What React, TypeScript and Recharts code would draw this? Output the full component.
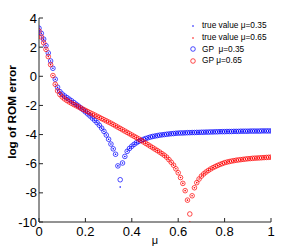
import React from 'react';
import { ScatterChart, Scatter, XAxis, YAxis, Label } from 'recharts';

// 파라미터 격자 (mu)
const MU = [
  0.00, 0.01, 0.02, 0.03, 0.04, 0.05, 0.06, 0.07, 0.08, 0.09,
  0.10, 0.11, 0.12, 0.13, 0.14, 0.15, 0.16, 0.17, 0.18, 0.19,
  0.20, 0.21, 0.22, 0.23, 0.24, 0.25, 0.26, 0.27, 0.28, 0.29,
  0.30, 0.31, 0.32, 0.33, 0.34, 0.35, 0.36, 0.37, 0.38, 0.39,
  0.40, 0.41, 0.42, 0.43, 0.44, 0.45, 0.46, 0.47, 0.48, 0.49,
  0.50, 0.51, 0.52, 0.53, 0.54, 0.55, 0.56, 0.57, 0.58, 0.59,
  0.60, 0.61, 0.62, 0.63, 0.64, 0.65, 0.66, 0.67, 0.68, 0.69,
  0.70, 0.71, 0.72, 0.73, 0.74, 0.75, 0.76, 0.77, 0.78, 0.79,
  0.80, 0.81, 0.82, 0.83, 0.84, 0.85, 0.86, 0.87, 0.88, 0.89,
  0.90, 0.91, 0.92, 0.93, 0.94, 0.95, 0.96, 0.97, 0.98, 0.99,
  1.00,
];

// GP 예측값, mu=0.35
const GP_035 = [
  3.30, 2.95, 2.55, 2.10, 1.60, 1.05, 0.55, -0.20, -0.75, -1.05,
  -1.22, -1.35, -1.46, -1.57, -1.68, -1.80, -1.92, -2.04, -2.17, -2.30,
  -2.44, -2.58, -2.72, -2.87, -3.02, -3.18, -3.36, -3.56, -3.78, -4.03,
  -4.32, -4.65, -4.98, -5.35, -6.15, -7.10, -5.95, -5.50, -5.15, -4.95,
  -4.80, -4.67, -4.56, -4.47, -4.40, -4.33, -4.27, -4.22, -4.17, -4.13,
  -4.10, -4.07, -4.04, -4.02, -4.00, -3.98, -3.96, -3.94, -3.93, -3.91,
  -3.90, -3.89, -3.89, -3.88, -3.87, -3.87, -3.86, -3.86, -3.85, -3.85,
  -3.84, -3.84, -3.83, -3.83, -3.82, -3.82, -3.81, -3.81, -3.80, -3.80,
  -3.80, -3.79, -3.79, -3.79, -3.78, -3.78, -3.78, -3.77, -3.77, -3.77,
  -3.77, -3.76, -3.76, -3.76, -3.76, -3.76, -3.75, -3.75, -3.75, -3.75,
  -3.75,
];

// GP 예측값, mu=0.65
const GP_065 = [
  3.10, 2.70, 2.30, 1.85, 1.35, 0.80, 0.05, -0.55, -1.00, -1.25,
  -1.42, -1.55, -1.66, -1.76, -1.85, -1.94, -2.02, -2.10, -2.18, -2.26,
  -2.34, -2.42, -2.50, -2.58, -2.66, -2.74, -2.82, -2.90, -2.98, -3.06,
  -3.14, -3.22, -3.31, -3.40, -3.49, -3.58, -3.67, -3.76, -3.85, -3.94,
  -4.03, -4.12, -4.21, -4.30, -4.40, -4.50, -4.60, -4.70, -4.80, -4.90,
  -5.00, -5.10, -5.20, -5.31, -5.42, -5.55, -5.72, -5.90, -6.10, -6.35,
  -6.62, -6.95, -7.35, -7.85, -8.50, -9.45, -8.20, -7.65, -7.30, -7.05,
  -6.85, -6.70, -6.57, -6.46, -6.36, -6.27, -6.19, -6.12, -6.05, -5.99,
  -5.93, -5.89, -5.85, -5.82, -5.79, -5.76, -5.74, -5.72, -5.70, -5.68,
  -5.66, -5.65, -5.63, -5.62, -5.61, -5.60, -5.59, -5.58, -5.57, -5.56,
  -5.55,
];

// 실제 오차, mu=0.35
const TRUE_035 = [
  3.30, 2.95, 2.55, 2.10, 1.60, 1.05, 0.55, -0.20, -0.75, -1.05,
  -1.22, -1.35, -1.46, -1.57, -1.68, -1.80, -1.92, -2.04, -2.17, -2.30,
  -2.44, -2.58, -2.72, -2.87, -3.02, -3.18, -3.36, -3.56, -3.78, -4.03,
  -4.32, -4.65, -4.98, -5.35, -6.15, -7.60, -5.95, -5.50, -5.15, -4.95,
  -4.80, -4.67, -4.56, -4.47, -4.40, -4.33, -4.27, -4.22, -4.17, -4.13,
  -4.10, -4.07, -4.04, -4.02, -4.00, -3.98, -3.96, -3.94, -3.93, -3.91,
  -3.90, -3.89, -3.89, -3.88, -3.87, -3.87, -3.86, -3.86, -3.85, -3.85,
  -3.84, -3.84, -3.83, -3.83, -3.82, -3.82, -3.81, -3.81, -3.80, -3.80,
  -3.80, -3.79, -3.79, -3.79, -3.78, -3.78, -3.78, -3.77, -3.77, -3.77,
  -3.77, -3.76, -3.76, -3.76, -3.76, -3.76, -3.75, -3.75, -3.75, -3.75,
  -3.75,
];

// 실제 오차, mu=0.65
const TRUE_065 = [
  3.10, 2.70, 2.30, 1.85, 1.35, 0.80, 0.05, -0.55, -1.00, -1.25,
  -1.42, -1.55, -1.66, -1.76, -1.85, -1.94, -2.02, -2.10, -2.18, -2.26,
  -2.34, -2.42, -2.50, -2.58, -2.66, -2.74, -2.82, -2.90, -2.98, -3.06,
  -3.14, -3.22, -3.31, -3.40, -3.49, -3.58, -3.67, -3.76, -3.85, -3.94,
  -4.03, -4.12, -4.21, -4.30, -4.40, -4.50, -4.60, -4.70, -4.80, -4.90,
  -5.00, -5.10, -5.20, -5.31, -5.42, -5.55, -5.72, -5.90, -6.10, -6.35,
  -6.62, -6.95, -7.35, -7.85, -8.50, -10.00, -8.20, -7.65, -7.30, -7.05,
  -6.85, -6.70, -6.57, -6.46, -6.36, -6.27, -6.19, -6.12, -6.05, -5.99,
  -5.93, -5.89, -5.85, -5.82, -5.79, -5.76, -5.74, -5.72, -5.70, -5.68,
  -5.66, -5.65, -5.63, -5.62, -5.61, -5.60, -5.59, -5.58, -5.57, -5.56,
  -5.55,
];

const X_TICKS = [0, 0.2, 0.4, 0.6, 0.8, 1];
const Y_TICKS = [-10, -8, -6, -4, -2, 0, 2, 4];
const LEGEND_NAMES = ['true value \u03bc=0.35', 'true value \u03bc=0.65', 'GP  \u03bc=0.35', 'GP \u03bc=0.65'];

const BLUE = '#0000ff';
const RED = '#ff0000';
const AXIS = '#262626';
const FONT = '"Liberation Sans", Arial, Helvetica, sans-serif';

const toRows = (vals: number[]) => MU.map((mu, i) => ({ mu, v: vals[i] }));

// 마커 모양
const ring = (color: string) => (p: any) =>
  <circle cx={p.cx} cy={p.cy} r={2.3} fill="none" stroke={color} strokeWidth={0.7} />;
const dot = (color: string) => (p: any) =>
  <circle cx={p.cx} cy={p.cy} r={0.8} fill={color} />;

// 범례 (차트 여백에 영향을 주지 않도록 바깥에 배치)
const LegendBox = () => (
  <div style={{
    position: 'absolute', left: 187, top: 20, fontFamily: FONT, fontSize: 8.3,
    color: '#000', lineHeight: '11.8px',
  }}>
    {LEGEND_NAMES.map((name, i) => {
      const color = i % 2 === 0 ? BLUE : RED;
      return (
        <div key={name} style={{ display: 'flex', alignItems: 'center', height: 11.8 }}>
          <svg width={14} height={10} style={{ marginRight: 1 }}>
            {i < 2
              ? <circle cx={6} cy={5} r={0.8} fill={color} />
              : <circle cx={6} cy={5} r={2.3} fill="none" stroke={color} strokeWidth={0.7} />}
          </svg>
          <span style={{ whiteSpace: 'pre' }}>{name}</span>
        </div>
      );
    })}
  </div>
);

const YLabel = (props: any) => {
  const { viewBox } = props;
  const cx = viewBox.x + 16;
  const cy = viewBox.y + viewBox.height / 2 - 8;
  return (
    <text x={cx} y={cy} transform={`rotate(-90, ${cx}, ${cy})`} textAnchor="middle"
      fontFamily={FONT} fontSize={11.8} fontWeight="bold" fill="#000">
      log of ROM error
    </text>
  );
};

const XLabel = (props: any) => {
  const { viewBox } = props;
  const cx = viewBox.x + viewBox.width / 2;
  return (
    <text x={cx} y={viewBox.y + 22} textAnchor="middle" fontFamily={FONT} fontSize={11} fill="#000">
      {'\u03bc'}
    </text>
  );
};

const tickStyle = { fontSize: 13, fill: '#000', fontFamily: FONT };

export default function App() {
  return (
    <div style={{ position: 'absolute', left: 0, top: 0, width: 300, height: 250, background: '#fff' }}>
      <ScatterChart width={300} height={250} margin={{ top: 18, right: 29, bottom: 0, left: 0 }}>
        <XAxis dataKey="mu" type="number" domain={[0, 1]} ticks={X_TICKS} allowDataOverflow
          height={28} tickSize={-4} tickMargin={9} stroke={AXIS} tick={tickStyle}
          tickFormatter={(t: number) => String(t)}>
          <Label content={XLabel} />
        </XAxis>
        <XAxis xAxisId="top" orientation="top" type="number" domain={[0, 1]} ticks={X_TICKS}
          allowDataOverflow height={0} tickSize={-4} tick={false} stroke={AXIS} />
        <YAxis dataKey="v" type="number" domain={[-10, 4]} ticks={Y_TICKS} allowDataOverflow
          width={39} tickSize={-4} tickMargin={6} stroke={AXIS} tick={tickStyle}>
          <Label content={YLabel} />
        </YAxis>
        <YAxis yAxisId="right" orientation="right" type="number" domain={[-10, 4]} ticks={Y_TICKS}
          allowDataOverflow width={0} tickSize={-4} tick={false} stroke={AXIS} />
        <Scatter name="true value 0.35" data={toRows(TRUE_035)} shape={dot(BLUE)} isAnimationActive={false} />
        <Scatter name="true value 0.65" data={toRows(TRUE_065)} shape={dot(RED)} isAnimationActive={false} />
        <Scatter name="GP 0.35" data={toRows(GP_035)} shape={ring(BLUE)} isAnimationActive={false} />
        <Scatter name="GP 0.65" data={toRows(GP_065)} shape={ring(RED)} isAnimationActive={false} />
      </ScatterChart>
      <LegendBox />
    </div>
  );
}
